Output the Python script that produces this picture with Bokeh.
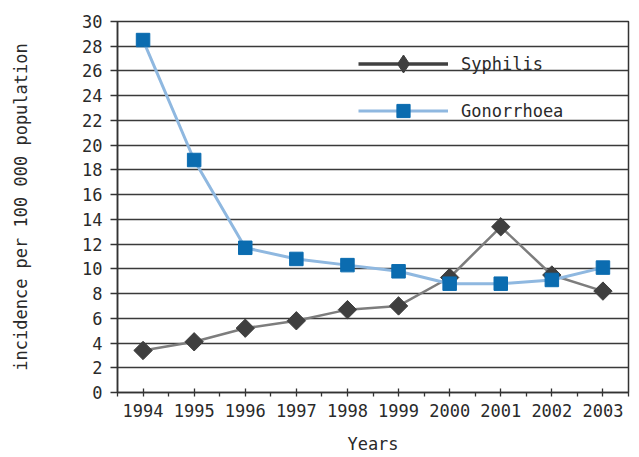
import math
import numpy as np
from bokeh.plotting import figure
from bokeh.models import FixedTicker, Legend, LegendItem
from bokeh.embed import file_html
from bokeh.resources import INLINE

years = [1994, 1995, 1996, 1997, 1998, 1999, 2000, 2001, 2002, 2003]
syphilis = [3.4, 4.1, 5.2, 5.8, 6.7, 7.0, 9.3, 13.4, 9.5, 8.2]
gonorrhoea = [28.5, 18.8, 11.7, 10.8, 10.3, 9.8, 8.8, 8.8, 9.1, 10.1]
y_ticks = list(range(0, 31, 2))

FONT = "DejaVu Sans Mono"
TXT = "#2a2a2a"

p = figure(width=639, height=457, output_backend="svg", toolbar_location=None,
           x_range=(1993.5, 2003.5), y_range=(0, 30),
           min_border_left=117, min_border_right=11, min_border_top=21, min_border_bottom=65)

p.background_fill_color = "white"
p.border_fill_color = "white"
p.outline_line_color = "#333333"
p.outline_line_width = 1.5

p.xgrid.grid_line_color = None
p.ygrid.grid_line_color = "#3a3a3a"
p.ygrid.grid_line_width = 1.6
p.ygrid.ticker = FixedTicker(ticks=y_ticks)

p.yaxis.ticker = FixedTicker(ticks=y_ticks)
p.xaxis.ticker = FixedTicker(ticks=years, minor_ticks=[y + 0.5 for y in years] + [1993.5])
for ax in (p.xaxis[0], p.yaxis[0]):
    ax.axis_line_color = "#333333"
    ax.axis_line_width = 1.5
    ax.major_tick_line_color = "#333333"
    ax.minor_tick_line_color = "#333333"
    ax.major_tick_line_width = 1.3
    ax.minor_tick_line_width = 1.3
    ax.major_label_text_font = FONT
    ax.major_label_text_font_size = "17px"
    ax.major_label_text_color = TXT
    ax.axis_label_text_font = FONT
    ax.axis_label_text_font_size = "17px"
    ax.axis_label_text_font_style = "normal"
    ax.axis_label_text_color = TXT
p.yaxis.major_tick_out = 7
p.yaxis.major_tick_in = 0
p.yaxis.minor_tick_line_color = None
p.yaxis.major_label_standoff = 8
p.xaxis.major_tick_out = 4
p.xaxis.major_tick_in = 4
p.xaxis.minor_tick_out = 4
p.xaxis.minor_tick_in = 0
p.xaxis.major_label_standoff = 7
p.xaxis.axis_label = "Years"
p.xaxis.axis_label_standoff = 14
p.yaxis.axis_label = "incidence per 100 000 population"
p.yaxis.axis_label_standoff = 48

p.line(years, syphilis, line_color="#7d7d7d", line_width=2.5)
p.scatter(years, syphilis, marker="square", angle=math.pi / 4, size=13,
          fill_color="#3f3f3f", line_color="#3f3f3f")
p.line(years, gonorrhoea, line_color="#8fb8e0", line_width=3)
p.scatter(years, gonorrhoea, marker="square", size=13.5,
          fill_color="#0b6cb0", line_color="#0b6cb0")

# legend-only glyphs (legend styling differs slightly from plotted series)
nan = np.array([np.nan])
leg_ls = p.line(nan, nan, line_color="#404040", line_width=3.5)
leg_ms = p.scatter(nan, nan, marker="diamond",
                   fill_color="#3f3f3f", line_color="#3f3f3f")
leg_lg = p.line(nan, nan, line_color="#8fb8e0", line_width=3)
leg_mg = p.scatter(nan, nan, marker="square",
                   fill_color="#0b6cb0", line_color="#0b6cb0")


def make_legend(label, renderers, loc, gh):
    lg = Legend(items=[LegendItem(label=label, renderers=renderers)], location=loc)
    lg.background_fill_alpha = 0
    lg.border_line_color = None
    lg.padding = 0
    lg.margin = 0
    lg.spacing = 0
    lg.glyph_width = 90
    lg.glyph_height = gh
    lg.label_height = gh
    lg.label_standoff = 13
    lg.label_text_font = FONT
    lg.label_text_font_size = "17px"
    lg.label_text_color = TXT
    return lg


p.add_layout(make_legend("Syphilis", [leg_ls, leg_ms], (241, 306), 45), "center")
p.add_layout(make_legend("Gonorrhoea", [leg_lg, leg_mg], (241, 265), 33), "center")

open("out.html", "w").write(file_html(p, INLINE))
